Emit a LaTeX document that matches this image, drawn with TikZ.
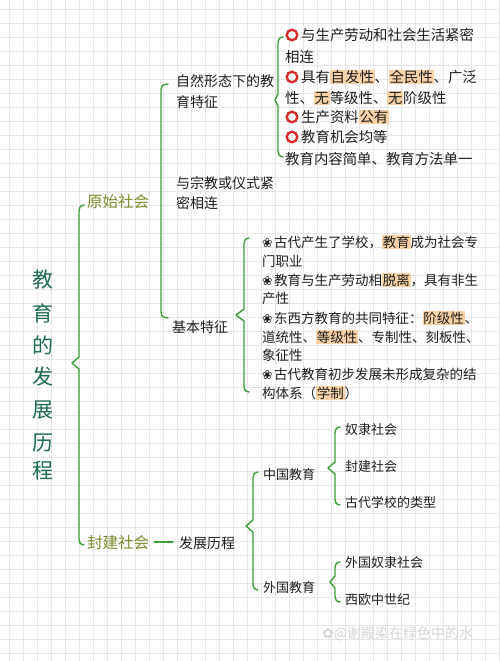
\documentclass[tikz,border=0pt]{standalone}
\usepackage{fontspec}
\newfontfamily\cjk{Noto Sans CJK SC}
\newfontfamily\symf{DejaVu Sans}
\definecolor{gridc}{HTML}{E6E6E6}
\definecolor{greenc}{HTML}{3E9E3A}
\definecolor{tealc}{HTML}{1F6B55}
\definecolor{olivec}{HTML}{7E8A2C}
\definecolor{bodyc}{HTML}{1E1E1E}
\definecolor{hlc}{HTML}{F8D2A6}
\definecolor{ringc}{HTML}{D42A2A}
\definecolor{wmc}{HTML}{D6D6D6}
\newcommand\hlw[1]{{\setlength{\fboxsep}{0.7pt}\colorbox{hlc}{#1}}}
\newcommand\flw{{\symf\fontsize{12.5}{13}\selectfont ❀}\hspace{1.5pt}}
\newcommand\mybrace[5]{%
\draw[brc] ({#1+5},#2) .. controls ({#1+1},{#2+1}) .. (#1,{#2+6}) -- (#1,{#3-6}) -- (#4,#3) -- (#1,{#3+6}) -- (#1,{#5-6}) .. controls ({#1+1},{#5-1}) .. ({#1+5},#5);}
\tikzset{
 txt/.style={font=\cjk\fontsize{14.4}{16}\selectfont, text=bodyc, anchor=west, inner sep=0pt},
 tb/.style={txt, font=\cjk\fontsize{13.5}{15}\selectfont},
 tc/.style={txt, font=\cjk\fontsize{13}{15}\selectfont},
 lv2/.style={txt, font=\cjk\fontsize{14}{16}\selectfont},
 lv1/.style={txt, font=\cjk\fontsize{15.5}{17}\selectfont, text=olivec},
 ttl/.style={font=\cjk\fontsize{21}{23}\selectfont, text=tealc, inner sep=0pt},
 brc/.style={draw=greenc, line width=1.4pt, line join=round, line cap=round},
 ring/.style={draw=ringc, line width=2.3pt},
 gridl/.style={draw=gridc, line width=0.6pt},
}
\begin{document}
\begin{tikzpicture}[x=1pt,y=-1pt]
\useasboundingbox (0,0) rectangle (500,661);
\fill[white] (0,0) rectangle (500,661);
\foreach \i in {0,...,35} \draw[gridl] ({9+14*\i},0) -- ({9+14*\i},661);
\foreach \j in {0,...,47} \draw[gridl] (0,{9+14*\j}) -- (500,{9+14*\j});

% title
\foreach \c/\yy [count=\k] in {教/280,育/313,的/345,发/377,展/410,历/443,程/471}
  \node[ttl] (t\k) at (43,\yy) {\c};

% level 1
\node[lv1] (ys) at (87,202) {原始社会};
\node[lv1] (fj) at (87,543) {封建社会};
\mybrace{79}{205}{363}{72}{545}

% level 2 of 原始社会
\node[lv2] (zr) at (176,81) {自然形态下的教};
\node[lv2] (zr2) at (176,102) {育特征};
\node[lv2] (zj) at (176,183) {与宗教或仪式紧};
\node[lv2] (zj2) at (176,203) {密相连};
\node[lv2] (jb) at (172,327) {基本特征};
\draw[brc] (168,84) .. controls (162,85) .. (161,90) -- (161,312) .. controls (162,317) .. (168,318);

% features of natural form
\mybrace{278}{37}{100}{275}{157}
\node[txt] (a1) at (301,35) {与生产劳动和社会生活紧密};
\node[txt] (a1b) at (285,57) {相连};
\node[txt] (a2) at (301,77) {具有\hlw{自发性}、\hlw{全民性}、广泛};
\node[txt] (a2b) at (285,98) {性、\hlw{无}等级性、\hlw{无}阶级性};
\node[txt] (a3) at (301,117) {生产资料\hlw{公有}};
\node[txt] (a4) at (301,137) {教育机会均等};
\node[txt] (a5) at (285,159) {教育内容简单、教育方法单一};
\foreach \yy in {35,77,117,137} \draw[ring] (292,\yy) circle (5.3);

% basic features
\mybrace{244}{238}{315}{236}{392}
\node[tb] (b1) at (262,242) {\flw 古代产生了学校，\hlw{教育}成为社会专};
\node[tb] (b1b) at (262,261) {门职业};
\node[tb] (b2) at (262,280) {\flw 教育与生产劳动相\hlw{脱离}，具有非生};
\node[tb] (b2b) at (262,298) {产性};
\node[tb] (b3) at (262,318) {\flw 东西方教育的共同特征：\hlw{阶级性}、};
\node[tb] (b3b) at (262,337) {道统性、\hlw{等级性}、专制性、刻板性、};
\node[tb] (b3c) at (262,355) {象征性};
\node[tb] (b4) at (262,374) {\flw 古代教育初步发展未形成复杂的结};
\node[tb] (b4b) at (262,393) {构体系（\hlw{学制}）};

% feudal branch
\node[lv2] (fz) at (179,543) {发展历程};
\draw[brc] ([xshift=5pt,yshift=1pt]fj.east) -- ([xshift=-6pt,yshift=1pt]fz.west);
\mybrace{253}{472}{526}{246}{590}
\node[tc] (zg) at (263,475) {中国教育};
\node[tc] (wg) at (263,588) {外国教育};
\mybrace{335}{427}{468}{328}{505}
\node[tc] (c1) at (345,430) {奴隶社会};
\node[tc] (c2) at (345,467) {封建社会};
\node[tc] (c3) at (345,503) {古代学校的类型};
\mybrace{335}{562}{582}{330}{602}
\node[tc] (w1) at (345,563) {外国奴隶社会};
\node[tc] (w2) at (345,600) {西欧中世纪};

% watermark
\node[anchor=west, inner sep=0pt, text=wmc, font=\cjk\fontsize{14}{16}\selectfont] (wm) at (322,634) {{\symf ✿}@谢殿染在绿色中的水};
\end{tikzpicture}
\end{document}
